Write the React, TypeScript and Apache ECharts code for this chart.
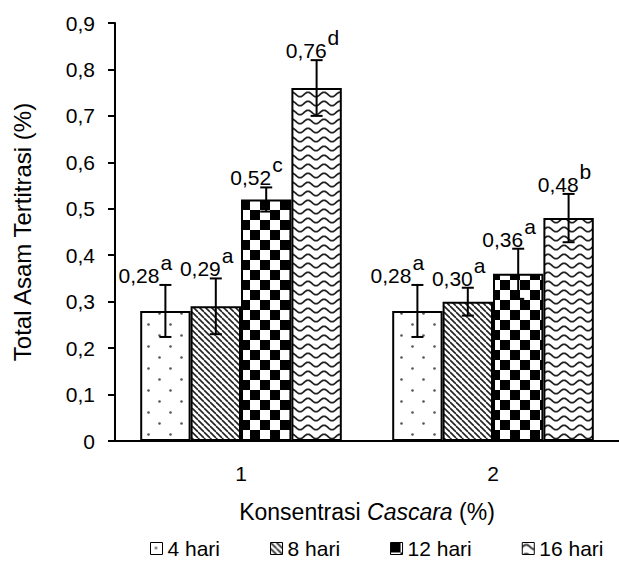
import React, { useEffect, useRef } from 'react';
import * as echarts from 'echarts';

// ---- data ----
const categories = ['1', '2'];
const seriesNames = ['4 hari', '8 hari', '12 hari', '16 hari'];

const hari4 = [0.28, 0.28];
const hari8 = [0.29, 0.3];
const hari12 = [0.52, 0.36];
const hari16 = [0.76, 0.48];

const err4 = [0.056, 0.056];
const err8 = [0.06, 0.03];
const err12 = [0.026, 0.054];
const err16 = [0.06, 0.052];

const sig4 = ['a', 'a'];
const sig8 = ['a', 'a'];
const sig12 = ['c', 'a'];
const sig16 = ['d', 'b'];

const yTicks = { min: 0, max: 0.9, interval: 0.1 };

const values = [hari4, hari8, hari12, hari16];
const errors = [err4, err8, err12, err16];
const letters = [sig4, sig8, sig12, sig16];

// label nudges (px) per series, style only
const labelDx = [-6, 5, 5, 10];

const FONT = '"Liberation Sans", Arial, Helvetica, sans-serif';

function tile(w: number, h: number, draw: (ctx: CanvasRenderingContext2D) => void) {
  const c = document.createElement('canvas');
  c.width = w;
  c.height = h;
  const ctx = c.getContext('2d') as CanvasRenderingContext2D;
  ctx.fillStyle = '#ffffff';
  ctx.fillRect(0, 0, w, h);
  draw(ctx);
  return { image: c, repeat: 'repeat', imageWidth: w, imageHeight: h } as any;
}

function makePatterns() {
  const dots = tile(22, 22, (ctx) => {
    ctx.fillStyle = '#555';
    ctx.beginPath();
    ctx.arc(5.5, 5.5, 1.3, 0, Math.PI * 2);
    ctx.fill();
    ctx.beginPath();
    ctx.arc(16.5, 16.5, 1.3, 0, Math.PI * 2);
    ctx.fill();
  });
  const diag = tile(6, 6, (ctx) => {
    ctx.strokeStyle = '#222';
    ctx.lineWidth = 1.6;
    for (const x0 of [-6, 0, 6]) {
      ctx.beginPath();
      ctx.moveTo(x0, 0);
      ctx.lineTo(x0 + 6, 6);
      ctx.stroke();
    }
  });
  const checker = tile(20, 20, (ctx) => {
    ctx.fillStyle = '#000';
    ctx.fillRect(0, 0, 10, 10);
    ctx.fillRect(10, 10, 10, 10);
  });
  const wave = tile(16, 9, (ctx) => {
    ctx.strokeStyle = '#222';
    ctx.lineWidth = 1.8;
    ctx.beginPath();
    for (let i = -1; i <= 34; i++) {
      const x = i * 0.5;
      const y = 4.5 - 2.2 * Math.sin((2 * Math.PI * x) / 16);
      if (i === -1) ctx.moveTo(x, y);
      else ctx.lineTo(x, y);
    }
    ctx.stroke();
  });
  return [dots, diag, checker, wave];
}

function fmtComma(v: number, d: number) {
  return v.toFixed(d).replace('.', ',');
}

export default function App() {
  const ref = useRef<HTMLDivElement>(null);

  useEffect(() => {
    if (!ref.current) return;
    const chart = echarts.init(ref.current, undefined, { renderer: 'svg' });
    const patterns = makePatterns();

    const barSeries = seriesNames.map((name, i) => ({
      type: 'bar',
      name,
      data: values[i],
      barGap: '0%',
      barCategoryGap: '20%',
      itemStyle: { color: patterns[i], borderColor: '#000', borderWidth: 2 },
      emphasis: { disabled: true },
      z: 2,
    }));

    const errData: any[] = [];
    const errLetters: string[] = [];
    values.forEach((arr, s) => {
      arr.forEach((v, c) => {
        errData.push([c, s, v, errors[s][c]]);
        errLetters.push(letters[s][c]);
      });
    });

    const errSeries = {
      type: 'custom',
      name: 'err',
      data: errData,
      encode: { x: 0, y: 2 },
      z: 10,
      silent: true,
      renderItem: (params: any, api: any) => {
        const c = api.value(0);
        const s = api.value(1);
        const v = api.value(2);
        const e = api.value(3);
        const center = api.coord([c, v]);
        const band = api.size([1, 0])[0];
        const barW = (band * 0.8) / 4;
        const x = center[0] - 2 * barW + (s + 0.5) * barW;
        const yTop = api.coord([c, v + e])[1];
        const yBot = api.coord([c, v - e])[1];
        const cap = 6;
        const ls = { stroke: '#000', lineWidth: 2 };
        const base = yTop - 3;
        const jx = x + labelDx[s];
        return {
          type: 'group',
          children: [
            { type: 'line', shape: { x1: x, y1: yTop, x2: x, y2: yBot }, style: ls },
            { type: 'line', shape: { x1: x - cap, y1: yTop, x2: x + cap, y2: yTop }, style: ls },
            { type: 'line', shape: { x1: x - cap, y1: yBot, x2: x + cap, y2: yBot }, style: ls },
            {
              type: 'text',
              style: {
                text: fmtComma(v, 2),
                x: jx,
                y: base + 4,
                align: 'right',
                verticalAlign: 'bottom',
                fontSize: 21,
                fontFamily: FONT,
                fill: '#000',
              },
            },
            {
              type: 'text',
              style: {
                text: errLetters[params.dataIndex],
                x: jx + 1,
                y: base + 4 - 13,
                align: 'left',
                verticalAlign: 'bottom',
                fontSize: 21,
                fontFamily: FONT,
                fill: '#000',
              },
            },
          ],
        };
      },
    };

    const option: any = {
      animation: false,
      backgroundColor: '#ffffff',
      textStyle: { fontFamily: FONT, color: '#000' },
      grid: { left: 115, top: 23, width: 509, height: 418 },
      legend: {
        data: seriesNames,
        left: 145,
        top: 533,
        itemWidth: 12,
        itemHeight: 12,
        itemGap: 50,
        icon: 'rect',
        selectedMode: false,
        textStyle: { fontSize: 21, fontFamily: FONT, color: '#000' },
        itemStyle: { borderWidth: 1, borderColor: '#000' },
      },
      xAxis: {
        type: 'category',
        data: categories,
        axisLine: { lineStyle: { color: '#000', width: 2 } },
        axisTick: { alignWithLabel: true, length: 5, lineStyle: { color: '#000', width: 2 } },
        axisLabel: { fontSize: 21, fontFamily: FONT, color: '#000', margin: 22 },
        name: 'Konsentrasi {i|Cascara} (%)',
        nameLocation: 'middle',
        nameGap: 59,
        nameTextStyle: {
          fontSize: 23,
          fontFamily: FONT,
          color: '#000',
          rich: { i: { fontStyle: 'italic', fontSize: 23, fontFamily: FONT, color: '#000' } },
        },
      },
      yAxis: {
        type: 'value',
        min: yTicks.min,
        max: yTicks.max,
        interval: yTicks.interval,
        axisLine: { show: true, lineStyle: { color: '#000', width: 2 } },
        axisTick: { show: true, length: 7, lineStyle: { color: '#000', width: 2 } },
        splitLine: { show: false },
        axisLabel: {
          fontSize: 21,
          fontFamily: FONT,
          color: '#000',
          margin: 20,
          formatter: (v: number) => (v === 0 ? '0' : fmtComma(v, 1)),
        },
        name: 'Total Asam Tertitrasi (%)',
        nameLocation: 'middle',
        nameGap: 81,
        nameTextStyle: { fontSize: 24, fontFamily: FONT, color: '#000' },
      },
      series: [...barSeries, errSeries],
    };

    chart.setOption(option);
    return () => chart.dispose();
  }, []);

  return (
    <div
      ref={ref}
      style={{ position: 'absolute', left: 0, top: 0, width: 619, height: 561, background: '#fff' }}
    />
  );
}
